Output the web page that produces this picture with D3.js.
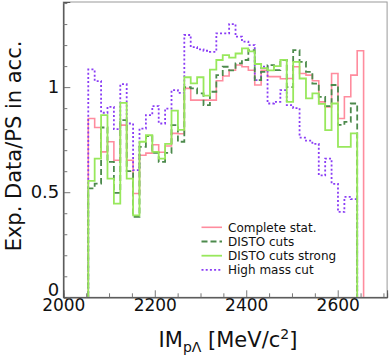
<!DOCTYPE html>
<html><head><meta charset="utf-8">
<script src="https://cdn.jsdelivr.net/npm/d3@7"></script>
<style>body{margin:0;background:#fff}svg{display:block}text{font-family:"DejaVu Sans",sans-serif}</style>
</head><body>
<svg id="c" width="389" height="361"></svg>
<script>
// ---- data (bins of 14 MeV starting at binLow) ----
const binLow = 2054.6;
const binWidth = 14;
const completeStat = [0.851,0.808,0.692,0.740,0.652,0.819,0.652,0.494,0.676,0.686,0.726,0.690,0.720,0.780,0.778,0.994,0.938,0.938,0.938,0.938,1.030,1.053,1.080,1.105,1.097,1.080,1.010,1.080,1.050,1.050,1.040,1.041,1.097,1.065,1.057,1.030,0.930,0.906,1.065,0.851,0.954,1.057,1.173];
const distoCuts = [0.518,0.541,0.808,0.644,0.497,0.843,0.600,0.383,0.716,0.767,0.687,0.644,0.687,0.819,0.740,1.000,0.994,0.970,0.914,0.978,1.057,1.097,1.080,1.113,1.129,1.176,1.033,1.073,1.105,1.081,1.129,1.000,1.176,1.120,1.073,1.017,0.954,0.910,1.010,0.820,0.835,0.922,null];
const distoStrong = [0.554,0.660,0.867,0.565,0.446,0.925,0.565,0.390,0.740,0.771,0.692,0.660,0.730,0.888,0.797,1.047,1.018,1.047,0.960,1.083,1.129,1.152,1.140,1.160,1.184,1.170,1.110,1.090,1.080,1.100,1.130,0.930,1.120,1.041,0.946,0.970,0.920,0.795,0.922,0.716,0.716,0.780,null];
const highMass = [1.084,1.029,0.878,0.906,0.800,1.014,0.827,0.605,0.803,0.867,0.910,0.827,0.898,0.986,0.973,1.248,1.190,1.180,1.173,1.168,1.256,1.256,1.300,1.240,1.216,1.200,1.033,1.097,0.922,0.930,0.986,0.914,0.900,0.760,0.745,0.730,0.580,0.660,0.540,0.406,0.478,0.467,null];
const legendLabels = ["Complete stat.","DISTO cuts","DISTO cuts strong","High mass cut"];
const xMajorTicks = [2000,2200,2400,2600];
const yMajorTicks = [0,0.5,1];
const yTickLabels = ["0","0.5","1"];

const svg = d3.select("#c");
const x = d3.scaleLinear().domain([2000,2708]).range([63.3,387.1]);
const y = d3.scaleLinear().domain([0,1.405]).range([297.3,2]);

const series = [
  {vals: completeStat, color:"#ff8c9e", width:1.6, dash:null},
  {vals: highMass, color:"#8a3df5", width:1.8, dash:"2,2.2"},
  {vals: distoCuts, color:"#4c8a4c", width:1.8, dash:"6,3"},
  {vals: distoStrong, color:"#98e85c", width:1.8, dash:null}
];

svg.append("clipPath").attr("id","pc").append("rect")
  .attr("x",x(2000)).attr("y",y(1.405)).attr("width",x(2708)-x(2000)).attr("height",y(0)-y(1.405));

const line = d3.line().x(d=>x(d[0])).y(d=>y(d[1]));
const gData = svg.append("g").attr("clip-path","url(#pc)");
series.forEach(s=>{
  const pts = [[binLow,0]];
  let last = 0;
  s.vals.forEach((v,i)=>{
    if (v===null) return;
    pts.push([binLow+i*binWidth, v]);
    pts.push([binLow+(i+1)*binWidth, v]);
    last = i;
  });
  pts.push([binLow+(last+1)*binWidth, 0]);
  gData.append("path").attr("d", line(pts)).attr("fill","none")
    .attr("stroke", s.color).attr("stroke-width", s.width)
    .attr("stroke-dasharray", s.dash);
});

// frame
svg.append("rect").attr("x",x(2000)).attr("y",y(1.405)).attr("width",x(2708)-x(2000)).attr("height",y(0)-y(1.405))
  .attr("fill","none").attr("stroke","#999").attr("stroke-width",1);

// axes
const xMinor = d3.range(2050,2708,50).filter(v=>!xMajorTicks.includes(v));
const gx = svg.append("g").attr("transform",`translate(0,${y(0)})`);
gx.call(d3.axisBottom(x).tickValues(xMajorTicks).tickSize(-7).tickPadding(1.5).tickFormat(d3.format("d")));
gx.append("g").call(d3.axisBottom(x).tickValues(xMinor).tickSize(-4).tickFormat(""));
const yMinor = d3.range(0.1,1.405,0.1).filter(v=>Math.abs(v-0.5)>1e-6 && Math.abs(v-1)>1e-6);
const gy = svg.append("g").attr("transform",`translate(${x(2000)},0)`);
gy.call(d3.axisLeft(y).tickValues(yMajorTicks).tickSize(-7).tickPadding(4).tickFormat((d,i)=>yTickLabels[i]));
gy.append("g").call(d3.axisLeft(y).tickValues(yMinor).tickSize(-4).tickFormat(""));
svg.selectAll(".domain").attr("stroke","#555");
svg.selectAll(".tick line").attr("stroke","#777");
gx.selectAll("text").attr("font-size",17).attr("fill","#111").attr("font-family","DejaVu Sans");
gy.selectAll("text").attr("font-size",18).attr("fill","#111").attr("font-family","DejaVu Sans")
  .attr("dy",(d)=> d===0 ? "-0.12em" : "0.32em");

// axis titles
const xt = svg.append("text").attr("x",228).attr("y",347).attr("text-anchor","middle").attr("font-size",21).attr("fill","#111");
xt.append("tspan").text("IM");
xt.append("tspan").attr("font-size",14).attr("dy",5).text("pΛ");
xt.append("tspan").attr("dy",-5).text(" [MeV/c");
xt.append("tspan").attr("font-size",14).attr("dy",-8).text("2");
xt.append("tspan").attr("dy",8).text("]");
svg.append("text").attr("transform","translate(20.5,146) rotate(-90)").attr("text-anchor","middle")
  .attr("font-size",21).attr("fill","#111").text("Exp. Data/PS in acc.");

// legend
const lg = svg.append("g");
const legSeries = [series[0], series[2], series[3], series[1]];
legendLabels.forEach((t,i)=>{
  const yy = 227.3 + i*14.2;
  const s = legSeries[i];
  lg.append("line").attr("x1",201.5).attr("x2",222).attr("y1",yy).attr("y2",yy)
    .attr("stroke",s.color).attr("stroke-width",s.width).attr("stroke-dasharray",s.dash);
  lg.append("text").attr("x",228).attr("y",yy+4.2).attr("font-size",12).attr("fill","#111").text(t);
});
</script>
</body></html>
